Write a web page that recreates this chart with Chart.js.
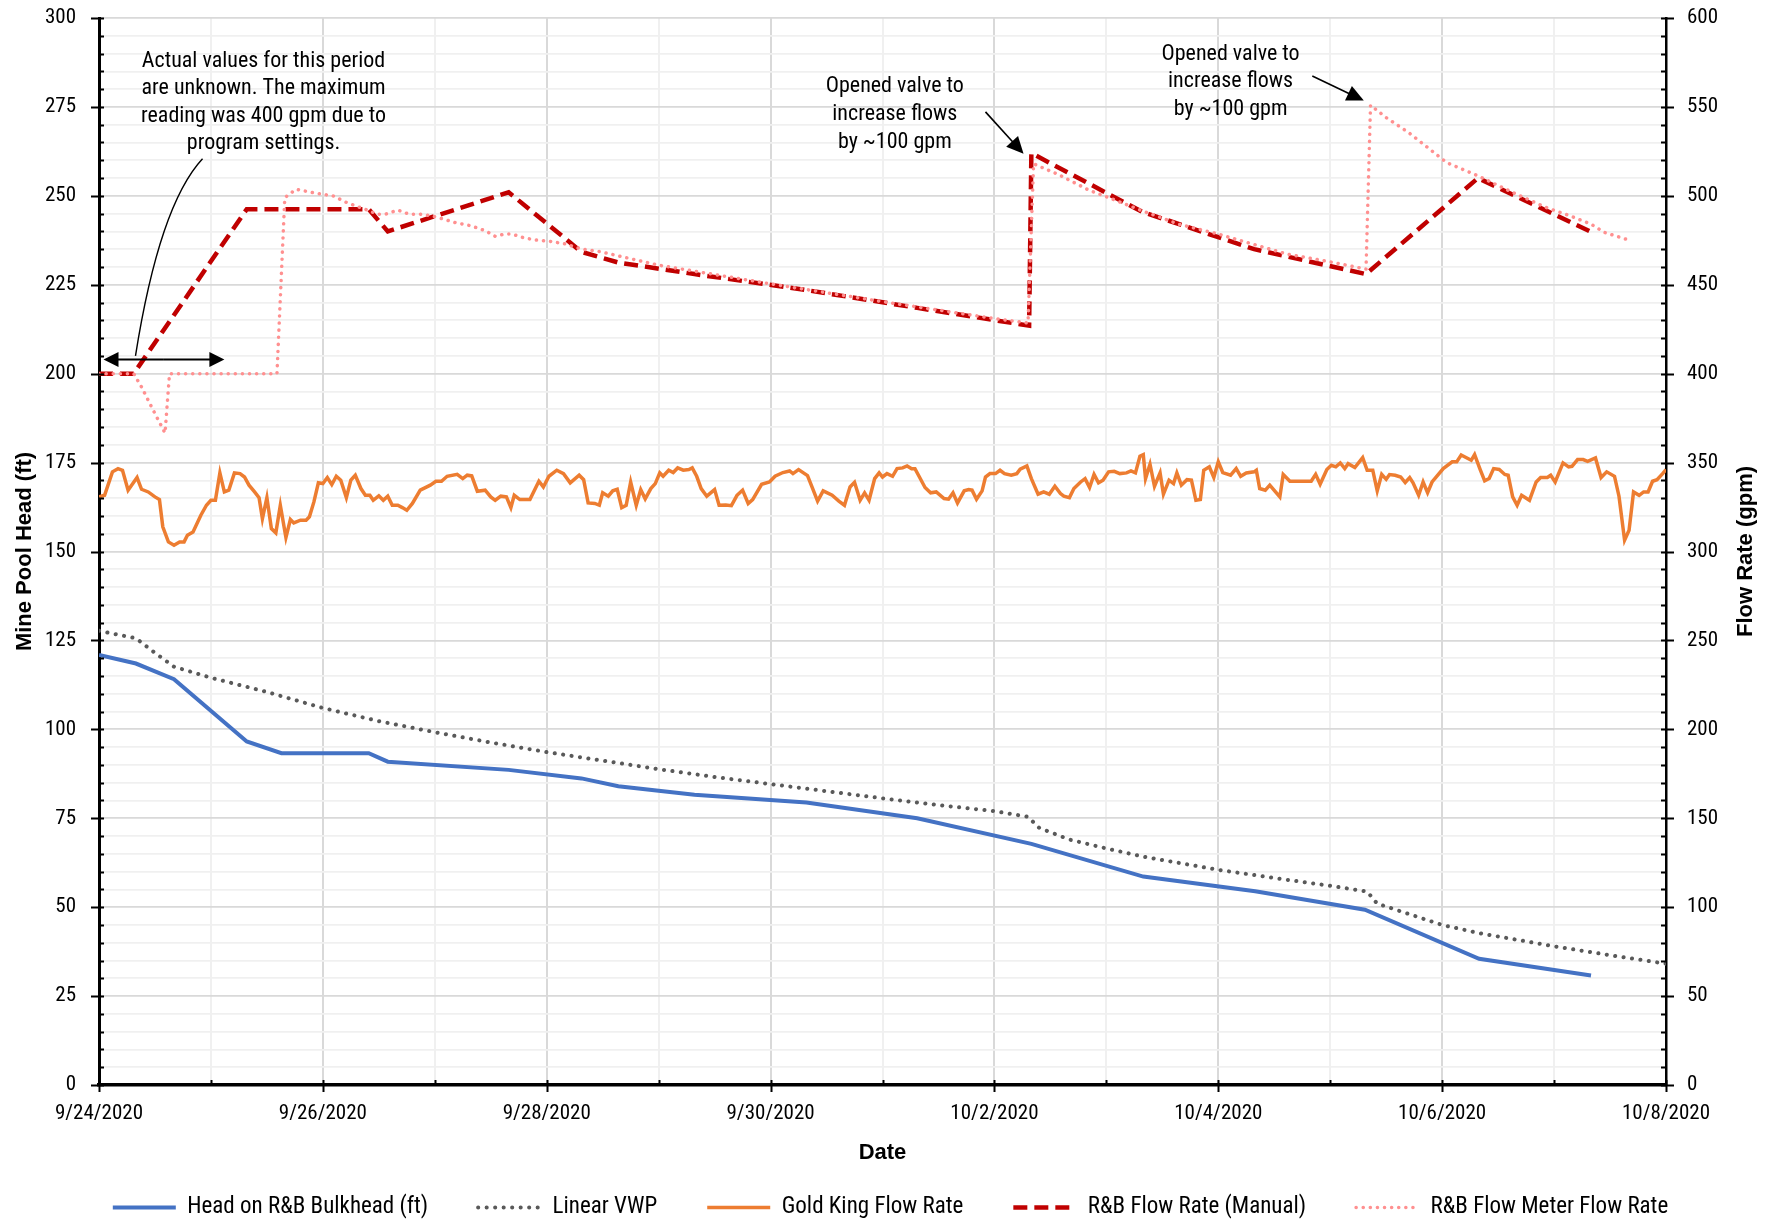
<!DOCTYPE html>
<html>
<head>
<meta charset="utf-8">
<script src="https://cdn.jsdelivr.net/npm/chart.js@4.4.0/dist/chart.umd.min.js"></script>
<style>
  html, body { margin: 0; padding: 0; background: #fff; }
  #wrap { width: 1781px; height: 1225px; }
</style>
</head>
<body>
<div id="wrap"><canvas id="myChart"></canvas></div>
<script>
// x values are days after 9/24/2020 00:00

const dateLabels = ['9/24/2020', '9/25/2020', '9/26/2020', '9/27/2020', '9/28/2020',
  '9/29/2020', '9/30/2020', '10/1/2020', '10/2/2020', '10/3/2020', '10/4/2020',
  '10/5/2020', '10/6/2020', '10/7/2020', '10/8/2020']

// Head on R&B Bulkhead (ft)
const headDays = [0, 0.33, 0.67, 1.32, 1.63, 2.41, 2.58, 3.66, 4.31, 4.64, 5.32, 6.32, 7.31, 8.33, 9.33, 10.33, 11.31, 12.33, 13.33]
const headFt = [120.9, 118.5, 114.1, 96.6, 93.3, 93.3, 90.9, 88.6, 86.2, 84.0, 81.6, 79.4, 75.0, 67.8, 58.6, 54.5, 49.3, 35.5, 30.8]

// Linear VWP (ft)
const vwpDays = [0, 0.33, 0.5, 0.67, 1.0, 1.5, 2.0, 2.5, 3.0, 3.5, 4.0, 4.5, 5.0, 5.5, 6.0, 6.5, 7.0, 7.5, 8.0, 8.3,
  8.4, 8.67, 9.0, 9.33, 10.0, 10.5, 11.0, 11.33, 11.42, 12.0, 12.33, 13.0, 13.5, 14.0]
const vwpFt = [127.7, 125.6, 121.5, 117.6, 114.5, 110.5, 106.0, 102.3, 99.2, 96.3, 93.6, 91.2, 88.8, 86.6, 84.6, 82.6, 80.6, 78.7, 77.0, 75.4,
  72.3, 69.0, 66.5, 64.2, 60.5, 58.2, 56.0, 54.4, 51.0, 45.0, 42.7, 39.0, 36.5, 34.1]

// Gold King Flow Rate (gpm)
const goldDays = [0.00, 0.05, 0.12, 0.17, 0.21, 0.26, 0.34, 0.38, 0.44, 0.50, 0.54, 0.57, 0.62, 0.67, 0.72, 0.76, 0.79, 0.84, 0.91, 0.96,
  1.00, 1.04, 1.08, 1.12, 1.16, 1.21, 1.26, 1.30, 1.34, 1.39, 1.43, 1.46, 1.50, 1.54, 1.58, 1.62, 1.67, 1.71, 1.74, 1.80,
  1.85, 1.88, 1.92, 1.96, 2.00, 2.04, 2.08, 2.12, 2.16, 2.21, 2.25, 2.29, 2.34, 2.38, 2.42, 2.45, 2.50, 2.54, 2.58, 2.62,
  2.67, 2.71, 2.75, 2.80, 2.87, 2.96, 3.01, 3.06, 3.11, 3.20, 3.25, 3.29, 3.33, 3.38, 3.45, 3.50, 3.54, 3.59, 3.64, 3.68,
  3.71, 3.76, 3.85, 3.93, 3.97, 4.02, 4.09, 4.15, 4.21, 4.29, 4.33, 4.37, 4.43, 4.47, 4.50, 4.55, 4.59, 4.63, 4.67, 4.71,
  4.75, 4.80, 4.84, 4.88, 4.93, 4.97, 5.01, 5.04, 5.09, 5.13, 5.17, 5.22, 5.27, 5.30, 5.34, 5.38, 5.43, 5.50, 5.54, 5.60,
  5.65, 5.70, 5.75, 5.80, 5.84, 5.92, 5.99, 6.04, 6.11, 6.17, 6.20, 6.25, 6.33, 6.37, 6.42, 6.47, 6.55, 6.61, 6.66, 6.71,
  6.75, 6.80, 6.84, 6.88, 6.93, 6.97, 7.00, 7.04, 7.09, 7.13, 7.18, 7.22, 7.26, 7.29, 7.33, 7.38, 7.43, 7.48, 7.55, 7.59,
  7.63, 7.67, 7.73, 7.77, 7.80, 7.84, 7.89, 7.92, 7.96, 8.01, 8.05, 8.09, 8.15, 8.20, 8.23, 8.29, 8.33, 8.39, 8.44, 8.49,
  8.54, 8.59, 8.62, 8.67, 8.71, 8.77, 8.81, 8.85, 8.89, 8.93, 8.97, 9.02, 9.07, 9.12, 9.18, 9.22, 9.26, 9.30, 9.33, 9.35,
  9.39, 9.43, 9.48, 9.51, 9.56, 9.60, 9.63, 9.67, 9.72, 9.76, 9.80, 9.84, 9.87, 9.92, 9.96, 10.00, 10.04, 10.11, 10.16, 10.20,
  10.25, 10.32, 10.34, 10.37, 10.42, 10.46, 10.55, 10.58, 10.64, 10.69, 10.83, 10.87, 10.91, 10.97, 11.01, 11.05, 11.09, 11.13, 11.16, 11.22,
  11.29, 11.33, 11.38, 11.42, 11.46, 11.50, 11.53, 11.58, 11.63, 11.67, 11.71, 11.74, 11.79, 11.83, 11.87, 11.91, 12.01, 12.09, 12.13, 12.17,
  12.26, 12.29, 12.34, 12.38, 12.42, 12.46, 12.51, 12.56, 12.59, 12.63, 12.67, 12.71, 12.78, 12.84, 12.88, 12.94, 12.97, 13.01, 13.08, 13.13,
  13.16, 13.21, 13.26, 13.30, 13.37, 13.42, 13.47, 13.54, 13.58, 13.63, 13.67, 13.71, 13.76, 13.80, 13.84, 13.88, 13.92, 13.97, 14.00]
const goldGpm = [330.7, 331.6, 344.8, 346.6, 345.7, 334.5, 341.6, 335.0, 333.5, 330.7, 329.2, 313.9, 305.4, 303.5, 305.4, 305.4, 309.2, 311.0, 320.4, 326.0,
  328.8, 328.8, 344.2, 333.5, 334.5, 344.2, 343.8, 341.9, 337.3, 333.5, 330.3, 318.5, 330.3, 312.9, 310.5, 326.0, 307.9, 318.0, 316.1, 317.6,
  317.6, 319.5, 327.9, 338.6, 338.2, 341.6, 337.6, 342.3, 340.1, 330.3, 340.1, 342.9, 335.4, 331.6, 331.6, 328.8, 331.3, 328.8, 331.1, 326.0,
  326.0, 324.7, 323.2, 327.0, 334.5, 337.3, 339.5, 339.5, 342.3, 343.4, 341.0, 342.9, 342.5, 333.9, 334.5, 330.7, 328.8, 331.1, 330.7, 324.7,
  331.6, 329.2, 329.2, 339.5, 336.3, 342.3, 345.7, 343.8, 338.6, 342.9, 340.4, 327.3, 327.0, 326.0, 333.0, 331.1, 334.1, 335.0, 324.7, 326.0,
  339.1, 326.0, 334.8, 329.6, 335.4, 338.2, 344.2, 342.3, 345.7, 344.4, 347.0, 345.7, 346.1, 347.0, 342.3, 335.4, 331.1, 334.8, 326.0, 326.2,
  325.8, 331.6, 334.5, 327.0, 329.2, 337.8, 339.1, 342.3, 344.4, 345.3, 343.8, 346.1, 342.7, 336.3, 328.3, 334.1, 331.6, 328.3, 326.0, 336.3,
  338.9, 328.8, 333.0, 328.8, 341.0, 344.2, 341.9, 343.8, 342.3, 346.6, 347.0, 348.1, 346.6, 346.6, 341.9, 336.0, 333.0, 333.5, 329.8, 329.4,
  333.0, 327.3, 334.1, 334.8, 334.5, 329.4, 334.1, 341.9, 343.8, 343.8, 345.7, 343.8, 342.9, 343.8, 346.3, 348.1, 341.0, 332.2, 333.5, 332.2,
  336.7, 332.6, 331.1, 330.3, 335.4, 339.1, 341.0, 336.0, 343.4, 338.6, 340.1, 344.8, 345.1, 343.8, 344.2, 345.3, 344.2, 353.6, 354.5, 341.0,
  349.1, 336.7, 344.2, 332.2, 340.1, 338.2, 344.2, 337.3, 340.4, 340.1, 328.8, 329.2, 345.7, 347.6, 341.6, 350.4, 344.4, 342.9, 346.6, 342.3,
  344.2, 344.8, 345.7, 335.4, 334.5, 337.3, 330.7, 343.3, 339.5, 339.5, 339.5, 343.4, 337.8, 346.1, 348.5, 347.6, 349.8, 346.6, 349.4, 347.2,
  352.8, 345.7, 345.7, 334.1, 343.4, 340.6, 343.3, 342.9, 341.9, 338.8, 341.6, 338.6, 331.6, 339.1, 333.1, 339.1, 346.6, 350.4, 350.4, 354.3,
  351.3, 354.5, 346.1, 339.7, 341.0, 346.6, 346.1, 343.3, 342.9, 330.7, 326.0, 331.6, 328.8, 339.1, 341.6, 341.6, 342.9, 339.1, 349.8, 347.6,
  347.9, 351.7, 351.7, 350.7, 352.6, 341.6, 344.8, 342.3, 331.1, 306.4, 312.0, 333.5, 331.6, 333.5, 333.5, 339.5, 340.4, 343.8, 346.1]

// R&B Flow Rate (Manual) (gpm)
const manualDays = [0, 0.31, 1.32, 2.41, 2.58, 3.66, 4.31, 4.64, 5.32, 6.32, 7.31, 8.31, 8.33, 9.32, 10.32, 11.32, 12.32, 13.32]
const manualGpm = [400, 400, 492.5, 492.5, 480, 502, 468.5, 462.5, 456, 447, 437, 427, 524, 491, 470, 456, 510, 480]

// R&B Flow Meter Flow Rate (gpm)
const meterDays = [0, 0.31, 0.38, 0.48, 0.59, 0.63, 1.59, 1.66, 1.76, 1.95, 2.09, 2.21, 2.33, 2.43, 2.48, 2.56, 2.67, 2.77, 2.87, 2.97,
  3.08, 3.18, 3.32, 3.45, 3.54, 3.62, 3.69, 3.80, 3.90, 4.03, 4.17, 4.31, 4.47, 5.0, 6.0, 7.0, 8.0, 8.30, 8.35, 8.57,
  8.85, 9.02, 9.32, 9.65, 10.0, 10.61, 11.02, 11.32, 11.36, 11.5, 11.7, 11.87, 12.04, 12.32, 12.63, 12.93, 13.14, 13.33, 13.45, 13.64]
const meterGpm = [400, 400, 392.5, 380, 366.6, 400, 400, 499, 503.7, 501.3, 500, 496.3, 493.5, 491.2, 489.7, 489.7, 492, 489.7, 489.7, 488.8,
  486.9, 485, 483.2, 480.4, 477.2, 478.5, 478.5, 476.3, 475.2, 474.4, 472.9, 470.1, 468.7, 461, 450.5, 440.5, 431, 428.5, 518, 512,
  503, 499, 491.6, 484, 478.5, 467.3, 462.6, 458.8, 551, 544, 535.6, 527.2, 518.7, 511.2, 501.9, 493.4, 488.8, 484.1, 479.4, 475.7]

const NARROW = '"Roboto Condensed", "Liberation Sans", sans-serif'
const BOLD = '"Liberation Sans", Arial, sans-serif'

function toPoints(xs, ys) {
  return xs.map(function (x, i) { return {x: x, y: ys[i]} })
}

// keep the plot box where the original has it
function fixWidth(w) {
  return function (s) {
    s.width = w
    s.paddingTop = 0
    s.paddingBottom = 0
  }
}

// little tick marks on the axes, excel style (major cross, minor inside)
const tickMarks = {
  id: 'tickMarks',
  afterDraw(chart) {
    const ctx = chart.ctx
    const a = chart.chartArea
    const sx = chart.scales.x, yl = chart.scales.y, yr = chart.scales.y2
    ctx.save()
    ctx.strokeStyle = '#000'
    ctx.lineWidth = 2
    ctx.beginPath()
    yl.ticks.forEach(function (t) {
      const py = Math.round(yl.getPixelForValue(t.value)) + 0.5
      ctx.moveTo(t.value % 25 === 0 ? a.left - 8 : a.left, py)
      ctx.lineTo(a.left + 5, py)
    })
    yr.ticks.forEach(function (t) {
      const py = Math.round(yr.getPixelForValue(t.value)) + 0.5
      ctx.moveTo(a.right - 5, py)
      ctx.lineTo(t.value % 50 === 0 ? a.right + 8 : a.right, py)
    })
    sx.ticks.forEach(function (t) {
      const px = Math.round(sx.getPixelForValue(t.value)) + 0.5
      ctx.moveTo(px, a.bottom - 5)
      ctx.lineTo(px, t.value % 2 === 0 ? a.bottom + 7 : a.bottom)
    })
    ctx.stroke()

    // right axis title reads bottom to top like the left one
    ctx.fillStyle = '#000'
    ctx.font = 'bold 22px ' + BOLD
    ctx.textAlign = 'center'
    ctx.textBaseline = 'middle'
    ctx.translate(1746, (a.top + a.bottom) / 2)
    ctx.rotate(-Math.PI / 2)
    ctx.fillText('Flow Rate (gpm)', 0, 0)
    ctx.restore()
  }
}

function arrow(ctx, x1, y1, x2, y2, len, hw) {
  const ang = Math.atan2(y2 - y1, x2 - x1)
  const c = Math.cos(ang), s = Math.sin(ang)
  ctx.beginPath()
  ctx.moveTo(x1, y1)
  ctx.lineTo(x2 - c * len * 0.8, y2 - s * len * 0.8)
  ctx.stroke()
  ctx.beginPath()
  ctx.moveTo(x2, y2)
  ctx.lineTo(x2 - len * c + hw * s, y2 - len * s - hw * c)
  ctx.lineTo(x2 - len * c - hw * s, y2 - len * s + hw * c)
  ctx.closePath()
  ctx.fill()
}

// the text boxes and arrows on top of the plot
const notes = {
  id: 'notes',
  afterDraw(chart) {
    const ctx = chart.ctx
    const X = chart.scales.x, Y = chart.scales.y
    function px(d) { return X.getPixelForValue(d) }
    function py(v) { return Y.getPixelForValue(v) }
    ctx.save()
    ctx.fillStyle = '#000'
    ctx.strokeStyle = '#000'
    ctx.font = '22px ' + NARROW
    ctx.textAlign = 'center'
    ctx.textBaseline = 'middle'

    const note1 = ['Actual values for this period', 'are unknown. The maximum', 'reading was 400 gpm due to', 'program settings.']
    note1.forEach(function (t, i) { ctx.fillText(t, px(1.47), py(287.8) + i * 27.5) })
    const valve = ['Opened valve to', 'increase flows', 'by ~100 gpm']
    valve.forEach(function (t, i) { ctx.fillText(t, px(7.11), py(280.6) + i * 27.7) })
    valve.forEach(function (t, i) { ctx.fillText(t, px(10.11), py(289.8) + i * 27.5) })

    // curved leader
    ctx.lineWidth = 1.4
    ctx.beginPath()
    ctx.moveTo(px(0.925), py(260.4))
    ctx.quadraticCurveTo(px(0.54), py(247.4), px(0.326), py(205.0))
    ctx.stroke()

    // double headed arrow over the unknown period
    ctx.lineWidth = 2
    arrow(ctx, px(0.58), py(204.0), px(0.04), py(204.0), 15, 7.5)
    arrow(ctx, px(0.58), py(204.0), px(1.12), py(204.0), 15, 7.5)

    ctx.lineWidth = 1.6
    arrow(ctx, px(7.92), py(273.6), px(8.26), py(261.8), 17, 8)
    arrow(ctx, px(10.84), py(283.7), px(11.30), py(276.8), 17, 8)
    ctx.restore()
  }
}

Chart.defaults.font.family = NARROW
Chart.defaults.color = '#000'

const ctx = document.getElementById('myChart').getContext('2d')
const chart = new Chart(ctx, {
  type: 'line',
  data: {
    datasets: [
      {
        label: 'Head on R&B Bulkhead (ft)',
        data: toPoints(headDays, headFt),
        yAxisID: 'y',
        borderColor: '#4472C4',
        backgroundColor: '#4472C4',
        borderWidth: 4,
        order: 5
      },
      {
        label: 'Linear VWP',
        data: toPoints(vwpDays, vwpFt),
        yAxisID: 'y',
        borderColor: '#595959',
        backgroundColor: '#595959',
        borderWidth: 4,
        borderDash: [0.1, 8.4],
        borderCapStyle: 'round',
        order: 4
      },
      {
        label: 'Gold King Flow Rate',
        data: toPoints(goldDays, goldGpm),
        yAxisID: 'y2',
        borderColor: '#ED7D31',
        backgroundColor: '#ED7D31',
        borderWidth: 3.5,
        order: 3
      },
      {
        label: 'R&B Flow Rate (Manual)',
        data: toPoints(manualDays, manualGpm),
        yAxisID: 'y2',
        borderColor: '#C00000',
        backgroundColor: '#C00000',
        borderWidth: 4.5,
        borderDash: [14, 7],
        order: 2
      },
      {
        label: 'R&B Flow Meter Flow Rate',
        data: toPoints(meterDays, meterGpm),
        yAxisID: 'y2',
        borderColor: '#FF9090',
        backgroundColor: '#FF9090',
        borderWidth: 3.5,
        borderDash: [0.1, 7],
        borderCapStyle: 'round',
        order: 1
      }
    ]
  },
  options: {
    animation: false,
    responsive: true,
    maintainAspectRatio: false,
    devicePixelRatio: 1,
    events: [],
    elements: {
      line: { tension: 0, fill: false },
      point: { radius: 0 }
    },
    layout: { padding: { top: 18, left: 0, right: 0, bottom: 0 } },
    scales: {
      x: {
        type: 'linear',
        position: 'bottom',
        min: 0,
        max: 14,
        ticks: {
          stepSize: 1,
          autoSkip: false,
          maxRotation: 0,
          padding: 16,
          font: { size: 21 },
          callback: function (v) { return v % 2 === 0 ? dateLabels[v] : '' }
        },
        grid: {
          color: function (c) { return c.tick && c.tick.value % 2 === 0 ? '#d9d9d9' : '#f0f0f0' },
          lineWidth: 2,
          drawTicks: false
        },
        border: { color: '#000', width: 3.5 },
        title: {
          display: true,
          text: 'Date',
          font: { family: BOLD, size: 22, weight: 'bold' },
          padding: { top: 0, bottom: -20 }
        },
        afterFit: function (s) {
          s.height = 61
          s.paddingLeft = 0
          s.paddingRight = 0
        }
      },
      y: {
        position: 'left',
        min: 0,
        max: 300,
        ticks: {
          stepSize: 5,
          autoSkip: false,
          padding: 23,
          font: { size: 21 },
          callback: function (v) { return v % 25 === 0 ? v : '' }
        },
        grid: {
          color: function (c) { return c.tick && c.tick.value % 25 === 0 ? '#d9d9d9' : '#f0f0f0' },
          lineWidth: 1.7,
          drawTicks: false
        },
        border: { color: '#000', width: 3 },
        title: {
          display: true,
          text: 'Mine Pool Head (ft)',
          font: { family: BOLD, size: 22, weight: 'bold' },
          padding: { top: 12, bottom: 0 }
        },
        afterFit: fixWidth(99)
      },
      y2: {
        position: 'right',
        min: 0,
        max: 600,
        ticks: {
          stepSize: 10,
          autoSkip: false,
          padding: 21,
          font: { size: 21 },
          callback: function (v) { return v % 50 === 0 ? v : '' }
        },
        grid: { display: false, drawTicks: false },
        border: { color: '#000', width: 2.5 },
        afterFit: fixWidth(115)
      }
    },
    plugins: {
      tooltip: { enabled: false },
      legend: {
        position: 'bottom',
        maxHeight: 79,
        labels: {
          usePointStyle: true,
          pointStyle: 'line',
          pointStyleWidth: 63,
          padding: 50,
          font: { size: 23 },
          color: '#000',
          generateLabels: function (chart) {
            return chart.data.datasets.map(function (ds, i) {
              return {
                text: ds.label,
                datasetIndex: i,
                fillStyle: ds.borderColor,
                strokeStyle: ds.borderColor,
                fontColor: '#000',
                lineWidth: ds.borderWidth,
                lineDash: ds.borderDash || [],
                lineCap: ds.borderCapStyle || 'butt',
                pointStyle: 'line',
                hidden: false
              }
            })
          }
        }
      }
    }
  },
  plugins: [tickMarks, notes]
})
</script>
</body>
</html>
